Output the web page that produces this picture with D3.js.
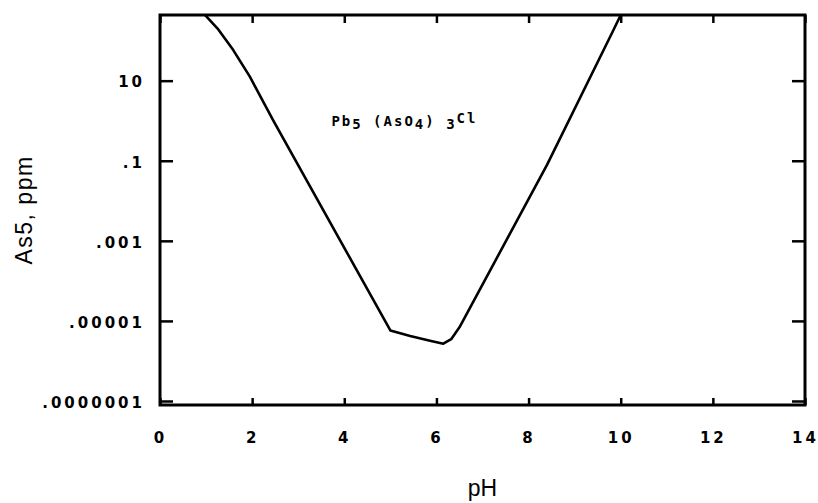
<!DOCTYPE html>
<html lang="en">
<head>
    <meta charset="UTF-8">
    <title>As5 solubility vs pH</title>
    <script src="https://d3js.org/d3.v7.min.js"></script>
    <style>
        body { margin: 0; background: #fff; }
        .tick text { font-family: "DejaVu Sans", sans-serif; font-weight: bold; font-size: 15px; fill: #000; }
        .title { font-family: "Liberation Sans", Arial, sans-serif; font-size: 23px; fill: #000; }
        .note { font-family: "DejaVu Sans Mono", monospace; font-weight: bold; font-size: 14px; fill: #000; }
    </style>
</head>
<body>
<div id="chart"></div>
<script>
    // values (pH, ppm)
    const phValues = [0.98, 1.25, 1.59, 1.95, 2.46, 5.0, 5.43, 5.86, 6.15, 6.32, 6.5, 8.4, 9.84, 10.0];
    const as5Values = [436, 200, 58, 12.6, 1.0, 0.0000058, 0.0000042, 0.0000032, 0.0000027, 0.0000035, 0.0000069, 0.079, 182, 436];
    const xTicks = [0, 2, 4, 6, 8, 10, 12, 14];
    const yTicks = [10, 0.1, 0.001, 0.00001, 0.0000001];
    const yTickLabels = ["10", ".1", ".001", ".00001", ".0000001"];

    const margin = { top: 15, right: 13, bottom: 98, left: 160 };
    const width = 818 - margin.left - margin.right;
    const height = 503 - margin.top - margin.bottom;

    const svg = d3.select("#chart").append("svg")
        .attr("width", 818)
        .attr("height", 503);

    const g = svg.append("g")
        .attr("transform", "translate(" + margin.left + "," + margin.top + ")");

    const x = d3.scaleLinear().domain([0, 14]).range([0, width]);
    const y = d3.scaleLog().domain([Math.pow(10, -7.1), Math.pow(10, 2.64)]).range([height, 0]);

    // axes, ticks point inward
    const yLeft = d3.axisLeft(y).tickValues(yTicks)
        .tickFormat((d, i) => yTickLabels[i]).tickSize(-13).tickPadding(15);
    const yRight = d3.axisRight(y).tickValues(yTicks).tickFormat("").tickSize(-13);
    const xBottom = d3.axisBottom(x).tickValues(xTicks).tickSize(-7).tickPadding(27);
    const xTop = d3.axisTop(x).tickValues(xTicks).tickFormat("").tickSize(-8);

    const gy = g.append("g").call(yLeft);
    g.append("g").attr("transform", "translate(" + width + ",0)").call(yRight);
    const gx = g.append("g").attr("transform", "translate(0," + height + ")").call(xBottom);
    g.append("g").call(xTop);

    g.selectAll(".domain").remove();
    g.selectAll(".tick line").attr("stroke", "#000").attr("stroke-width", 2.5);
    g.selectAll(".tick text").attr("letter-spacing", "3px");
    gy.selectAll(".tick text").attr("dy", "0.42em");

    g.append("rect")
        .attr("width", width)
        .attr("height", height)
        .attr("fill", "none")
        .attr("stroke", "#000")
        .attr("stroke-width", 3);

    // curve
    const line = d3.line()
        .x((d, i) => x(phValues[i]))
        .y(d => y(d));

    g.append("path")
        .datum(as5Values)
        .attr("d", line)
        .attr("fill", "none")
        .attr("stroke", "#000")
        .attr("stroke-width", 2.6)
        .attr("stroke-linejoin", "round");

    // phase label
    const note = g.append("text")
        .attr("class", "note")
        .attr("letter-spacing", "2px")
        .attr("x", x(3.72))
        .attr("y", y(0.75));
    note.append("tspan").text("Pb");
    note.append("tspan").attr("dy", 3).text("5");
    note.append("tspan").attr("dy", -3).text(" (AsO");
    note.append("tspan").attr("dy", 3).text("4");
    note.append("tspan").attr("dy", -3).text(") ");
    note.append("tspan").attr("dy", 3).text("3");
    note.append("tspan").attr("dy", -6).text("Cl");

    // axis titles
    svg.append("text")
        .attr("class", "title")
        .attr("x", margin.left + width / 2)
        .attr("y", 496)
        .attr("text-anchor", "middle")
        .text("pH");

    svg.append("text")
        .attr("class", "title")
        .attr("letter-spacing", "1.5px")
        .attr("transform", "translate(32,210) rotate(-90)")
        .attr("text-anchor", "middle")
        .text("As5, ppm");
</script>
</body>
</html>
